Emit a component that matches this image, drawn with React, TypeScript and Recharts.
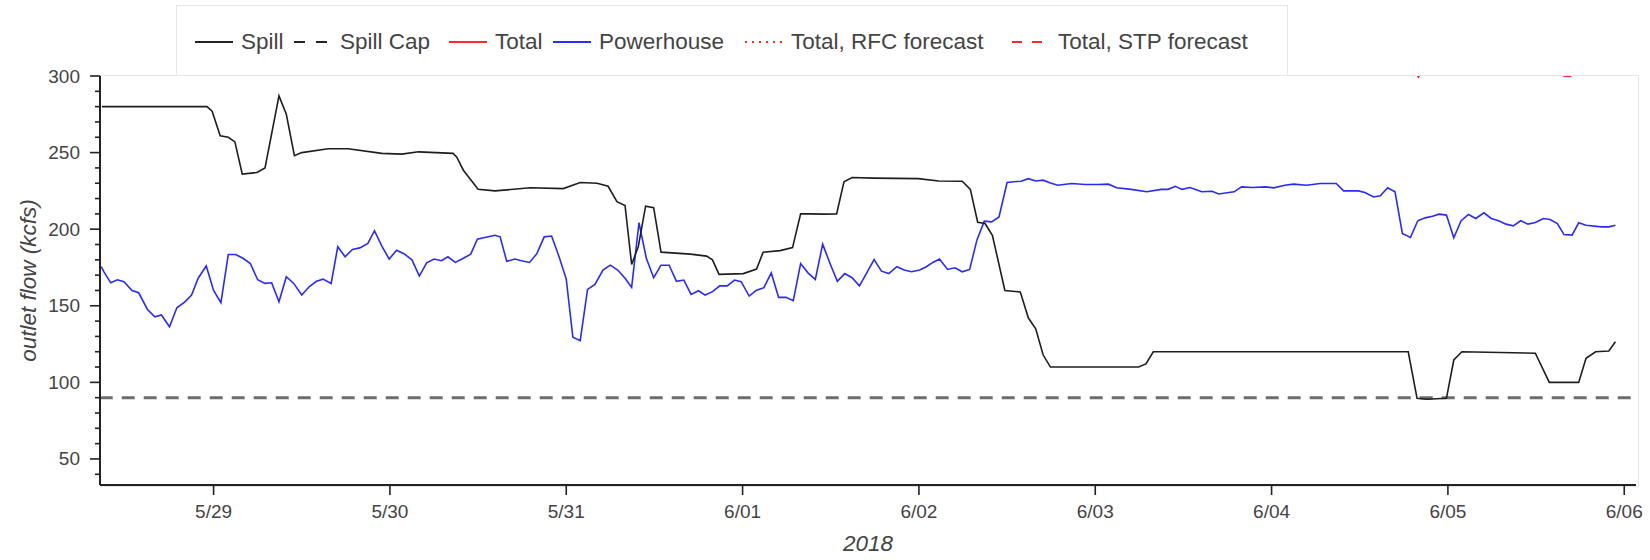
import { LineChart, Line, XAxis, YAxis } from 'recharts'

// hours are counted from 2018-05-28 00:00
const spillHours = [
  8.8, 23.1, 23.8, 24.9, 26.0, 26.9, 27.9, 29.9, 31.0, 32.9, 33.9, 35.0, 36.0, 39.6, 42.3, 46.9,
  49.6, 51.9, 56.6, 57.1, 58.0, 60.0, 62.3, 67.1, 71.6, 73.9, 76.2, 77.7, 78.9, 80.0, 80.9, 81.8,
  82.8, 83.9, 84.9, 88.9, 91.1, 91.9, 92.8, 96.1, 97.9, 98.8, 101.1, 102.8, 103.9, 105.2, 107.0,
  108.8, 109.8, 110.9, 113.8, 119.9, 122.7, 125.9, 127.0, 128.0, 129.0, 130.0, 131.7, 133.8, 134.9,
  135.9, 136.9, 137.9, 149.9, 150.9, 151.9, 169.8, 186.6, 187.8, 189.1, 191.8, 192.8, 193.9, 203.9,
  205.8, 209.8, 210.8, 212.1, 213.9, 214.8,
]
const spillFlow = [
  280, 280, 277, 261, 260, 257, 236, 237, 240, 287, 275, 248, 250, 252.5, 252.5, 249.5,
  249, 250.5, 249.5, 247, 238.5, 226, 225, 227, 226.5, 230.5, 230, 228, 218, 215.5, 177, 188.5,
  215, 214, 185, 183.7, 182.4, 180, 170.5, 171, 174, 185, 186, 188, 210, 210, 209.8,
  210, 231, 233.7, 233.3, 233, 231.5, 231.3, 226, 204.5, 203.7, 196, 160, 159, 142,
  135, 118, 110, 110, 112, 120, 120, 120, 89.6, 89, 89.6, 114.6, 120, 119,
  100, 100, 115.7, 120, 120.5, 126.5,
]

const powerHours = [
  8.7, 9.1, 10.0, 10.9, 11.8, 12.9, 13.8, 15.0, 16.0, 16.9, 18.0, 19.0, 20.1, 21.0, 21.9, 23.0,
  24.0, 25.0, 26.0, 27.0, 28.0, 29.0, 30.0, 31.0, 31.9, 32.9, 33.9, 34.9, 36.0, 37.0, 38.0, 38.9,
  40.0, 40.9, 41.9, 42.9, 43.9, 45.0, 45.9, 46.9, 47.9, 48.9, 49.9, 51.0, 52.0, 53.0, 54.0, 55.0,
  55.9, 56.9, 58.0, 59.0, 59.9, 60.9, 62.3, 63.0, 63.9, 65.0, 65.9, 67.0, 68.0, 69.0, 70.0, 71.0,
  72.0, 72.9, 73.9, 74.9, 75.9, 77.0, 78.0, 79.0, 80.0, 80.9, 81.9, 82.9, 83.9, 84.9, 86.0, 87.0,
  88.0, 89.0, 90.0, 90.9, 91.9, 92.9, 93.9, 94.9, 95.8, 96.9, 97.9, 98.9, 99.9, 100.9, 101.9, 102.9,
  103.9, 104.9, 105.9, 106.9, 107.9, 108.9, 109.9, 110.9, 111.9, 112.9, 113.9, 114.9, 115.9, 117.0,
  118.0, 119.0, 120.1, 121.0, 121.9, 122.8, 123.9, 124.9, 125.9, 126.9, 127.9, 128.9, 129.9, 130.9,
  132.0, 132.9, 133.9, 134.9, 135.9, 136.9, 137.9, 138.9, 140.8, 142.6, 144.4, 145.8, 146.9, 148.9,
  151.0, 153.0, 153.9, 154.9, 155.8, 156.9, 158.5, 159.9, 160.8, 162.9, 163.9, 165.4, 167.2, 168.3,
  169.8, 171.0, 172.8, 174.6, 176.8, 177.8, 179.8, 180.7, 181.9, 182.8, 183.8, 184.8, 185.8, 186.9,
  187.9, 188.9, 189.9, 190.8, 191.8, 192.8, 193.8, 194.8, 195.8, 196.9, 197.9, 198.9, 199.9, 200.9,
  201.9, 202.9, 203.9, 205.0, 205.9, 206.9, 207.8, 208.9, 209.8, 210.8, 212.9, 213.9, 214.8,
]
const powerFlow = [
  175.5, 172, 165, 167, 165.7, 160, 158.5, 147.6, 142.8, 144, 136.3, 148.7, 152.6, 157, 168, 176,
  160, 152, 183.5, 183.5, 181, 177.6, 167, 164.6, 165, 152.6, 169, 164.6, 157, 162.4, 166, 167.4,
  164.6, 188.5, 182, 186.8, 187.8, 190.7, 199, 189, 180.5, 186.3, 184, 180, 169.4, 178, 180.5, 179.4,
  182, 178.3, 181, 183.7, 193.5, 194.6, 196, 195, 179, 180.5, 179.4, 178.3, 184, 195, 195.5, 182.4,
  167.4, 129.4, 127.2, 160.7, 164, 173.3, 176.5, 173.3, 168, 162, 204.2, 181, 168.3, 176.5, 176.5, 166,
  166.8, 157.4, 159.8, 157, 159.2, 163, 163, 166.8, 165.7, 156.3, 160.2, 161.8, 171.5, 155.5, 155.5, 153.3,
  177.6, 171.5, 167.2, 190.2, 177.6, 166, 171, 168.3, 163, 171.5, 180.2, 172.6, 171, 175.5,
  173.3, 172.2, 173.3, 175.5, 178.3, 180.5, 173.7, 174.8, 172.2, 173.7, 193, 205.2, 204.8, 208,
  230.5, 231, 231.3, 233, 231.5, 232, 230.2, 228.7, 229.8, 229.2, 229.2, 229.4, 227, 226,
  224.4, 226, 226, 228, 226, 227.2, 224.4, 224.8, 223, 224.4, 227.6, 227.2, 227.6, 227,
  228.7, 229.4, 228.7, 229.8, 229.8, 225, 225, 224, 221, 221.8, 227, 224.4, 197.2, 194.6,
  205.5, 207.4, 208.5, 209.8, 209.2, 194.4, 205.5, 209.6, 207, 210.7, 207, 205.5, 203.3, 202.2,
  205.5, 203.3, 204.4, 207, 206.3, 203.7, 196.5, 196.1, 204.2, 202.6, 201.5, 201.5, 202.6,
]

const capHours = [8.5, 217.6]
const capFlow = [90, 90]

// total only dips into view at the top edge, twice
const totalHours = [187.2, 188.0, 188.8, 207.2, 207.8, 208.7, 209.3]
const totalFlow = [305, 299.2, 305, 304, 299.8, 299.8, 304]

const xTickHours = [24, 48, 72, 96, 120, 144, 168, 192, 216]
const xTickLabels = ['5/29', '5/30', '5/31', '6/01', '6/02', '6/03', '6/04', '6/05', '6/06']
const yTicks = [40, 50, 60, 70, 80, 90, 100, 110, 120, 130, 140, 150, 160, 170, 180, 190, 200, 210, 220, 230, 240, 250, 260, 270, 280, 290, 300]

const toSeries = (hours: number[], flow: number[]) => hours.map((h, i) => ({ h, flow: flow[i] }))

const spillData = toSeries(spillHours, spillFlow)
const powerData = toSeries(powerHours, powerFlow)
const capData = toSeries(capHours, capFlow)
const totalData = toSeries(totalHours, totalFlow)

const FONT = "'Liberation Sans', Arial, Helvetica, sans-serif"
const TEXT = '#444'

const legendItems = [
  { label: 'Spill', color: '#222', dash: undefined, left: 195 },
  { label: 'Spill Cap', color: '#222', dash: '11 11', left: 294 },
  { label: 'Total', color: '#ff2a2a', dash: undefined, left: 449 },
  { label: 'Powerhouse', color: '#2a2aff', dash: undefined, left: 553 },
  { label: 'Total, RFC forecast', color: '#ff2a2a', dash: '2 5', left: 745 },
  { label: 'Total, STP forecast', color: '#ff2a2a', dash: '10 10', left: 1012 },
]

const YTick = ({ x, y, payload }: any) => {
  const axisX = x + 20
  const major = payload.value % 50 === 0
  return (
    <g>
      <line x1={axisX - (major ? 10 : 5)} x2={axisX} y1={y} y2={y} stroke="#222" strokeWidth={1.6} />
      {major && (
        <text x={x} y={y} textAnchor="end" dominantBaseline="central" fill={TEXT} fontSize={19} fontFamily={FONT}>
          {payload.value}
        </text>
      )}
    </g>
  )
}

const YLabel = ({ viewBox }: any) => {
  const cy = viewBox.y + viewBox.height / 2
  return (
    <text
      x={28}
      y={cy}
      transform={`rotate(-90, 28, ${cy})`}
      textAnchor="middle"
      dominantBaseline="central"
      fill={TEXT}
      fontSize={22.5}
      fontStyle="italic"
      fontFamily={FONT}
    >
      outlet flow (kcfs)
    </text>
  )
}

const XLabel = ({ viewBox }: any) => (
  <text
    x={viewBox.x + viewBox.width / 2}
    y={543}
    textAnchor="middle"
    dominantBaseline="central"
    fill={TEXT}
    fontSize={22.5}
    fontStyle="italic"
    fontFamily={FONT}
  >
    2018
  </text>
)

export default function App() {
  return (
    <div style={{ position: 'relative', width: 1650, height: 560, background: '#fff', fontFamily: FONT }}>
      <style>{'body { margin: 0; }'}</style>
      {/* plot outline */}
      <div
        style={{
          position: 'absolute',
          left: 100,
          top: 75,
          width: 1537,
          height: 410,
          border: '1px solid #e6e6e6',
        }}
      />
      <LineChart width={1650} height={560} margin={{ top: 76, right: 14, bottom: 0, left: 40 }}>
        <XAxis
          type="number"
          dataKey="h"
          domain={[8.54, 217.6]}
          allowDataOverflow
          ticks={xTickHours}
          tickFormatter={(v) => xTickLabels[xTickHours.indexOf(v)] ?? ''}
          height={75}
          tickSize={10}
          tickMargin={10}
          tick={{ fontSize: 19, fill: TEXT, fontFamily: FONT }}
          tickLine={{ stroke: '#222', strokeWidth: 1.6 }}
          axisLine={{ stroke: '#222', strokeWidth: 2 }}
          label={<XLabel />}
        />
        <YAxis
          type="number"
          domain={[33, 300]}
          allowDataOverflow
          ticks={yTicks}
          interval={0}
          width={60}
          tickSize={10}
          tickMargin={10}
          tickLine={false}
          tick={<YTick />}
          axisLine={{ stroke: '#222', strokeWidth: 2 }}
          label={<YLabel />}
        />
        <Line data={capData} dataKey="flow" stroke="#6e6e6e" strokeWidth={3} strokeDasharray="13 9" dot={false} isAnimationActive={false} />
        <Line data={totalData} dataKey="flow" stroke="#ff2a2a" strokeWidth={1.5} dot={false} isAnimationActive={false} />
        <Line data={powerData} dataKey="flow" stroke="#2a2aff" strokeWidth={1.6} dot={false} isAnimationActive={false} />
        <Line data={spillData} dataKey="flow" stroke="#1e1e1e" strokeWidth={1.6} dot={false} isAnimationActive={false} />
      </LineChart>
      {/* legend */}
      <div
        style={{
          position: 'absolute',
          left: 176,
          top: 5,
          width: 1110,
          height: 69,
          border: '1px solid #e6e6e6',
          background: '#fff',
        }}
      />
      {legendItems.map((item) => (
        <div
          key={item.label}
          style={{ position: 'absolute', left: item.left, top: 27, height: 30, display: 'flex', alignItems: 'center' }}
        >
          <svg width={38} height={30}>
            <line x1={0} x2={38} y1={15} y2={15} stroke={item.color} strokeWidth={2} strokeDasharray={item.dash} />
          </svg>
          <span style={{ marginLeft: 8, fontSize: 22.5, color: TEXT, whiteSpace: 'nowrap' }}>{item.label}</span>
        </div>
      ))}
    </div>
  )
}
